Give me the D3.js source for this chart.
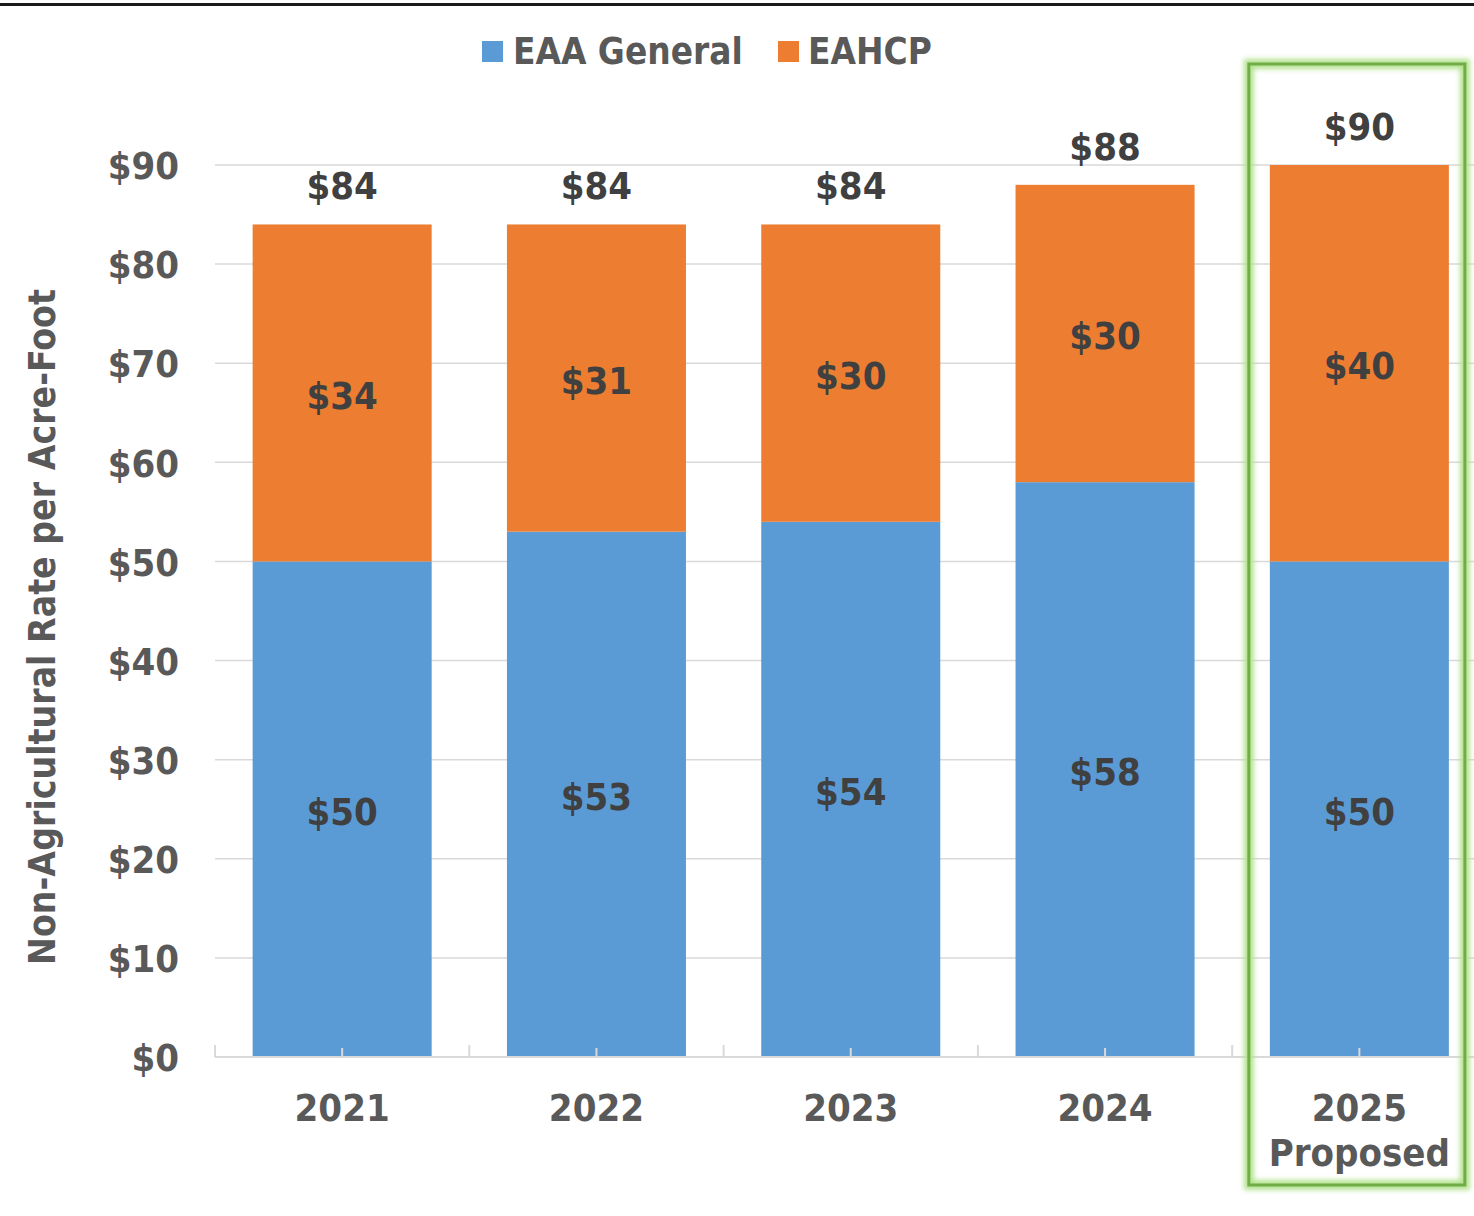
<!DOCTYPE html>
<html>
<head>
<meta charset="utf-8">
<script src="https://cdn.jsdelivr.net/npm/d3@7"></script>
<style>
  html, body { margin: 0; padding: 0; background: #fff; }
  svg { display: block; }
  text { font-family: "DejaVu Sans Condensed", "DejaVu Sans", sans-serif; font-stretch: condensed; font-weight: bold; }
</style>
</head>
<body>
<svg id="chart" width="1474" height="1216"></svg>
<script>
const years = ["2021", "2022", "2023", "2024", "2025"];
const xLabelLines = [["2021"], ["2022"], ["2023"], ["2024"], ["2025", "Proposed"]];
const eaaGeneral = [50, 53, 54, 58, 50];
const eahcp = [34, 31, 30, 30, 40];
const totals = [84, 84, 84, 88, 90];
const seriesNames = ["EAA General", "EAHCP"];
const seriesColors = ["#5B9BD5", "#ED7D31"];
const yTickValues = [0, 10, 20, 30, 40, 50, 60, 70, 80, 90];
const yTitle = "Non-Agricultural Rate per Acre-Foot";

const svg = d3.select("#chart");
svg.append("rect").attr("width", 1474).attr("height", 1216).attr("fill", "#fff");

// top border line
svg.append("rect").attr("x", 0).attr("y", 3).attr("width", 1474).attr("height", 3).attr("fill", "#1a1a1a");

const x = d3.scaleBand().domain(years).range([215, 1486.5]).paddingInner(0.296).paddingOuter(0.148);
const y = d3.scaleLinear().domain([0, 90]).range([1057, 165]);

// gridlines
svg.append("g").selectAll("line").data(yTickValues.filter(d => d > 0)).join("line")
  .attr("x1", 215).attr("x2", 1474)
  .attr("y1", d => y(d)).attr("y2", d => y(d))
  .attr("stroke", "#d9d9d9").attr("stroke-width", 1.5);

// y axis labels
const yAxis = d3.axisLeft(y).tickValues(yTickValues).tickFormat(d => "$" + d).tickSize(0).tickPadding(36);
const yg = svg.append("g").attr("transform", "translate(215,0)").call(yAxis);
yg.select(".domain").remove();
yg.selectAll("text").attr("font-size", 38).attr("fill", "#595959")
  .style("font-family", null).attr("font-family", null).attr("dy", "0.36em");

// stacked bars
const rows = years.map((yr, i) => ({ year: yr, "EAA General": eaaGeneral[i], "EAHCP": eahcp[i] }));
const stacked = d3.stack().keys(seriesNames)(rows);

svg.append("g").selectAll("g").data(stacked).join("g")
  .attr("fill", (d, i) => seriesColors[i])
  .selectAll("rect").data(d => d).join("rect")
  .attr("x", d => x(d.data.year))
  .attr("width", x.bandwidth())
  .attr("y", d => y(d[1]))
  .attr("height", d => y(d[0]) - y(d[1]));

// axis baseline and ticks
const step = x.step();
const x0 = x.range()[0];
svg.append("line").attr("x1", 215).attr("x2", 1474).attr("y1", y(0)).attr("y2", y(0))
  .attr("stroke", "#d9d9d9").attr("stroke-width", 2);
svg.append("g").selectAll("line").data(d3.range(0, 6)).join("line")
  .attr("x1", i => x0 + i * step).attr("x2", i => x0 + i * step)
  .attr("y1", y(0)).attr("y2", y(0) - 12)
  .attr("stroke", "#d9d9d9").attr("stroke-width", 2);
svg.append("g").selectAll("line").data(years).join("line")
  .attr("x1", d => x(d) + x.bandwidth() / 2).attr("x2", d => x(d) + x.bandwidth() / 2)
  .attr("y1", y(0)).attr("y2", y(0) - 9)
  .attr("stroke", "#d9d9d9").attr("stroke-width", 2);

// segment labels
svg.append("g").selectAll("g").data(stacked).join("g")
  .selectAll("text").data(d => d).join("text")
  .attr("x", d => x(d.data.year) + x.bandwidth() / 2)
  .attr("y", d => (y(d[0]) + y(d[1])) / 2 + 2)
  .attr("dy", "0.36em")
  .attr("text-anchor", "middle")
  .attr("font-size", 38).attr("fill", "#404040")
  .text(d => "$" + (d[1] - d[0]));

// total labels
svg.append("g").selectAll("text").data(years).join("text")
  .attr("x", d => x(d) + x.bandwidth() / 2)
  .attr("y", (d, i) => y(totals[i]) - 39)
  .attr("dy", "0.36em")
  .attr("text-anchor", "middle")
  .attr("font-size", 38).attr("fill", "#404040")
  .text((d, i) => "$" + totals[i]);

// x labels
const xl = svg.append("g").selectAll("text").data(years).join("text")
  .attr("x", d => x(d) + x.bandwidth() / 2)
  .attr("y", 1107)
  .attr("text-anchor", "middle")
  .attr("font-size", 38).attr("fill", "#595959");
xl.selectAll("tspan").data((d, i) => xLabelLines[i]).join("tspan")
  .attr("x", function () { return d3.select(this.parentNode).attr("x"); })
  .attr("dy", (d, j) => j === 0 ? "0.36em" : "1.18em")
  .text(d => d);

// legend
const legendPos = [{ rx: 482, tx: 513 }, { rx: 778, tx: 808 }];
const lg = svg.append("g").selectAll("g").data(seriesNames).join("g");
lg.append("rect").attr("x", (d, i) => legendPos[i].rx).attr("y", 41).attr("width", 21).attr("height", 21)
  .attr("fill", (d, i) => seriesColors[i]);
lg.append("text").attr("x", (d, i) => legendPos[i].tx).attr("y", 51).attr("dy", "0.36em")
  .attr("font-size", 36.6).attr("fill", "#595959").text(d => d);

// y title
svg.append("text").attr("transform", "translate(42,627) rotate(-90)")
  .attr("text-anchor", "middle").attr("dy", "0.36em")
  .attr("font-size", 37).attr("fill", "#595959").text(yTitle);

// highlight box with glow
const defs = svg.append("defs");
const f = defs.append("filter").attr("id", "glow").attr("x", "-10%").attr("y", "-10%").attr("width", "120%").attr("height", "120%");
f.append("feGaussianBlur").attr("stdDeviation", 2.5);
const last = years[years.length - 1];
const bx = x(last) - 21, bw = x.bandwidth() + 37;
svg.append("rect").attr("x", bx).attr("y", 64).attr("width", bw).attr("height", 1185 - 64)
  .attr("fill", "none").attr("stroke", "#b5e391").attr("stroke-width", 10).attr("filter", "url(#glow)");
svg.append("rect").attr("x", bx).attr("y", 64).attr("width", bw).attr("height", 1185 - 64)
  .attr("fill", "none").attr("stroke", "#70AD47").attr("stroke-width", 3);
</script>
</body>
</html>
